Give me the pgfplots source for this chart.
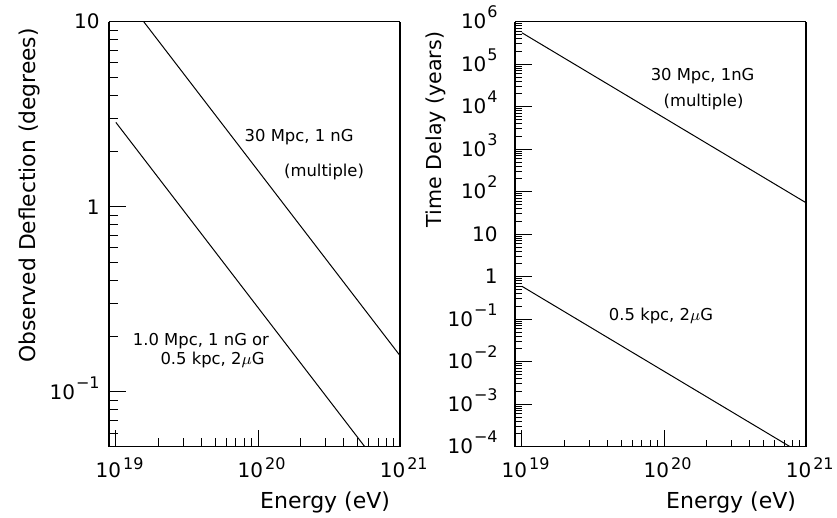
\documentclass[border=0pt]{standalone}
\usepackage{pgfplots}
\pgfplotsset{compat=1.18}
\usepackage{fontspec}
\setmainfont{DejaVu Sans}
\newcommand{\tickf}{\fontsize{10}{10}\selectfont}
\newcommand{\smf}{\fontsize{8}{8}\selectfont}
\newcommand{\ann}{\fontsize{8.2}{10}\selectfont}
\newcommand{\xe}[1]{10\rlap{\hspace{1pt}\raisebox{4pt}{\smf #1}}}
\newcommand{\ye}[1]{10\hspace{0.5pt}\raisebox{5.5pt}{\smf #1}}
\pgfplotsset{
  /pgfplots/myax/.style={
    scale only axis, width=145.5pt, height=212.5pt,
    xmin=8.95e18, xmax=1e21,
    separate axis lines,
    axis line style={line width=0.6pt},
    tick align=inside, xtick pos=bottom, ytick pos=left,
    major tick length=8.5pt,
    tick style={black, line width=0.45pt},
    xtick={1e19,1e20,1e21},
    xticklabels={\xe{19},\xe{20},\xe{21}},
    minor xtick={2e19,3e19,4e19,5e19,6e19,7e19,8e19,9e19,2e20,3e20,4e20,5e20,6e20,7e20,8e20,9e20},
    xticklabel style={anchor=base, yshift=-15.6pt, xshift=-3.75pt, font=\tickf},
    yticklabel style={anchor=base east, inner sep=0pt, xshift=-4.5pt, yshift=-3.65pt, font=\tickf},
    xlabel={Energy (eV)},
    xlabel style={at={([xshift=-1.5pt,yshift=-30.7pt]axis description cs:1,0)}, anchor=base east, font=\fontsize{11}{11}\selectfont},
  }
}
\begin{document}
\begin{tikzpicture}
\begin{loglogaxis}[myax,
  at={(0pt,0pt)},
  ymin=0.0506, ymax=10,
  minor tick length=4.5pt,
  ytick={0.1,1,10},
  yticklabels={\ye{−1},1\hspace{9pt},10\hspace{7.5pt}},
  minor ytick={0.06,0.07,0.08,0.09,0.2,0.3,0.4,0.5,0.6,0.7,0.8,0.9,2,3,4,5,6,7,8,9},
  ylabel={Observed Deflection (degrees)},
  ylabel style={at={([xshift=-37pt,yshift=0.3pt]axis description cs:0,1)}, anchor=base east, font=\fontsize{10.9}{10.9}\selectfont},
]
\addplot[black, line width=0.5pt] coordinates {(1e19,15.7) (1e21,0.157)};
\addplot[black, line width=0.5pt] coordinates {(1e19,2.858) (1e21,0.02858)};
\node[font=\ann] at (axis cs:1.95e20,2.39) {30 Mpc, 1 nG};
\node[font=\ann] at (axis cs:2.92e20,1.55) {(multiple)};
\node[font=\ann] at (axis cs:3.97e19,0.189) {1.0 Mpc, 1 nG or};
\node[font=\ann] at (axis cs:4.79e19,0.149) {0.5 kpc, 2$\mu$G};
\end{loglogaxis}
\begin{loglogaxis}[myax,
  at={(203pt,0pt)},
  ymin=1e-4, ymax=1e6,
  minor tick length=3.5pt,
  ytick={1e-4,1e-3,1e-2,1e-1,1,10,1e2,1e3,1e4,1e5,1e6},
  yticklabels={\ye{−4},\ye{−3},\ye{−2},\ye{−1},1\hspace{10pt},10\hspace{5pt},\ye{2},\ye{3},\ye{4},\ye{5},\ye{6}},
  yticklabel style={xshift=-4pt},
  minor ytick={2e-4,3e-4,4e-4,5e-4,6e-4,7e-4,8e-4,9e-4,
               2e-3,3e-3,4e-3,5e-3,6e-3,7e-3,8e-3,9e-3,
               2e-2,3e-2,4e-2,5e-2,6e-2,7e-2,8e-2,9e-2,
               2e-1,3e-1,4e-1,5e-1,6e-1,7e-1,8e-1,9e-1,
               2,3,4,5,6,7,8,9,
               20,30,40,50,60,70,80,90,
               200,300,400,500,600,700,800,900,
               2e3,3e3,4e3,5e3,6e3,7e3,8e3,9e3,
               2e4,3e4,4e4,5e4,6e4,7e4,8e4,9e4,
               2e5,3e5,4e5,5e5,6e5,7e5,8e5,9e5},
  ylabel={Time Delay (years)},
  ylabel style={at={([xshift=-37pt,yshift=-1.5pt]axis description cs:0,1)}, anchor=base east, font=\fontsize{10.3}{10.3}\selectfont},
]
\addplot[black, line width=0.5pt] coordinates {(1e19,5.495e5) (1e21,54.95)};
\addplot[black, line width=0.5pt] coordinates {(1e19,0.5957) (1e21,5.957e-5)};
\node[font=\ann] at (axis cs:1.87e20,5.1e4) {30 Mpc, 1nG};
\node[font=\ann] at (axis cs:1.9e20,1.32e4) {(multiple)};
\node[font=\ann] at (axis cs:9.53e19,0.1175) {0.5 kpc, 2$\mu$G};
\end{loglogaxis}
\pgfresetboundingbox
\useasboundingbox (-54.5pt,-35.65pt) rectangle (364pt,223.35pt);
\end{tikzpicture}
\end{document}
